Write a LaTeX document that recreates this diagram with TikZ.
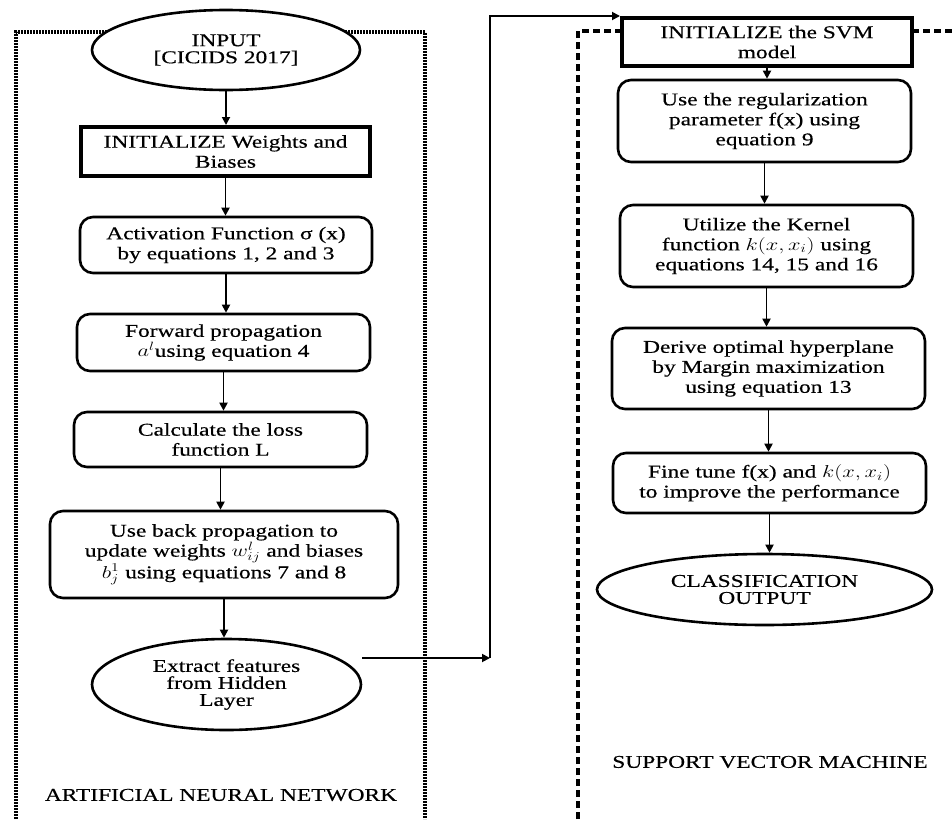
\documentclass[tikz,border=0pt]{standalone}
\usepackage{fontspec}
\setmainfont[FakeStretch=1.3,FakeBold=0.4]{Liberation Serif}
\usetikzlibrary{shapes.geometric,arrows.meta}
\newcommand\sm[1]{\scalebox{1.3}[1]{$#1$}}
\begin{document}
\begin{tikzpicture}[x=1pt,y=-1pt,
  every node/.style={font=\fontsize{18}{20}\selectfont, align=center, inner sep=0pt},
  rbox/.style={draw, line width=2.6pt, rounded corners=13pt, fill=white},
  tbox/.style={draw, line width=4pt, fill=white},
  ell/.style={draw, ellipse, line width=2.6pt, fill=white, font=\fontsize{18}{17}\selectfont},
  arr/.style={line width=1.8pt, -{Triangle[length=8pt,width=8pt]}},
  dotframe/.style={line width=3.2pt, dash pattern=on 1.6pt off 1.4pt},
  dashframe/.style={line width=3.2pt, dash pattern=on 7pt off 4pt}]
\useasboundingbox (0,0) rectangle (952,819);

% frames
\draw[dotframe] (16,819) -- (16,32) -- (425,32) -- (425,819);
\draw[dashframe] (578,819) -- (578,31) -- (960,31);

% left column
\node[ell, minimum width=268pt, minimum height=80pt] (input) at (226,50) {INPUT\\{}[CICIDS 2017]};
\node[tbox, minimum width=289pt, minimum height=49pt] (init) at (225.5,151.5) {INITIALIZE Weights and\\Biases};
\node[rbox, minimum width=292pt, minimum height=56pt] (act) at (226,245) {Activation Function σ (x)\\by equations 1, 2 and 3};
\node[rbox, minimum width=293pt, minimum height=57pt] (fwd) at (223.5,342.5) {Forward propagation\\\sm{a^{l}}using equation 4};
\node[rbox, minimum width=293pt, minimum height=55pt] (loss) at (220.5,439.5) {Calculate the loss\\function L};
\node[rbox, minimum width=348pt, minimum height=87pt] (back) at (224,554.5) {Use back propagation to\\update weights \sm{w_{ij}^{l}} and biases\\\sm{b_j^{1}} using equations 7 and 8};
\node[ell, minimum width=269pt, minimum height=91pt] (extract) at (226.5,684.5) {Extract features\\from Hidden\\Layer};
\node (annlabel) at (221,795) {ARTIFICIAL NEURAL NETWORK};

% right column
\node[tbox, minimum width=290pt, minimum height=48pt] (svminit) at (767,42) {INITIALIZE the SVM\\model};
\node[rbox, minimum width=293pt, minimum height=82pt] (reg) at (764.5,121) {Use the regularization\\parameter f(x) using\\equation 9};
\node[rbox, minimum width=293pt, minimum height=82pt] (kern) at (766.5,246) {Utilize the Kernel\\function \sm{k(x,x_{i})} using\\equations 14, 15 and 16};
\node[rbox, minimum width=313pt, minimum height=81pt] (derive) at (768.5,368.5) {Derive optimal hyperplane\\by Margin maximization\\using equation 13};
\node[rbox, minimum width=313pt, minimum height=60pt] (fine) at (769.5,483) {Fine tune f(x) and \sm{k(x,x_{i})}\\to improve the performance};
\node[ell, minimum width=335pt, minimum height=71pt] (cls) at (764.5,589.5) {CLASSIFICATION\\OUTPUT};
\node (svmlabel) at (770,762) {SUPPORT VECTOR MACHINE};

% connectors
\draw[arr] (input.south) -- (input.south |- init.north);
\draw[arr] (init.south) -- (init.south |- act.north);
\draw[arr] (act.south) -- (act.south |- fwd.north);
\draw[arr] (fwd.south) -- (fwd.south |- loss.north);
\draw[arr] (loss.south) -- (loss.south |- back.north);
\draw[arr] (back.south) -- (back.south |- extract.north);

\coordinate (turn) at (490,658);
\draw[arr] (extract.east |- turn) -- (turn);
\draw[arr] (turn) |- (svminit.north west);

\draw[arr] (svminit.south) -- (svminit.south |- reg.north);
\draw[arr] (reg.south) -- (reg.south |- kern.north);
\draw[arr] (kern.south) -- (kern.south |- derive.north);
\draw[arr] (derive.south) -- (derive.south |- fine.north);
\draw[arr] (fine.south) -- (fine.south |- cls.north);
\end{tikzpicture}
\end{document}
